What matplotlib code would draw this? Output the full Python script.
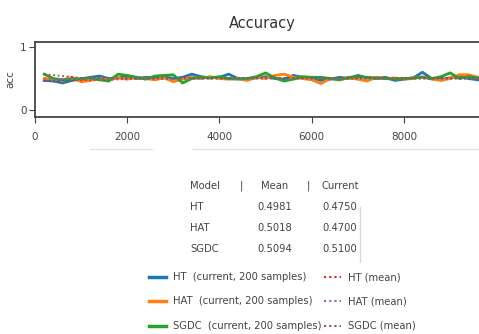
"""Accuracy plot of streaming classifiers with a small summary table."""

import matplotlib.pyplot as plt
from matplotlib.lines import Line2D

plt.rcParams["font.family"] = ["DejaVu Sans"]

# evaluation points (every 200 samples)
samples = [200 * k for k in range(1, 51)]

ht_current = [0.47, 0.46, 0.43, 0.47, 0.49, 0.52, 0.54, 0.50, 0.51, 0.53,
              0.50, 0.52, 0.51, 0.53, 0.50, 0.52, 0.57, 0.53, 0.51, 0.52,
              0.57, 0.50, 0.49, 0.51, 0.53, 0.50, 0.49, 0.55, 0.52, 0.50,
              0.47, 0.49, 0.52, 0.50, 0.55, 0.51, 0.50, 0.52, 0.47, 0.49,
              0.51, 0.60, 0.50, 0.49, 0.51, 0.53, 0.50, 0.48, 0.47, 0.475]
hat_current = [0.50, 0.49, 0.48, 0.52, 0.45, 0.47, 0.50, 0.48, 0.51, 0.49,
               0.52, 0.50, 0.48, 0.51, 0.45, 0.49, 0.52, 0.50, 0.53, 0.50,
               0.49, 0.50, 0.47, 0.52, 0.50, 0.55, 0.57, 0.52, 0.50, 0.48,
               0.42, 0.50, 0.48, 0.51, 0.49, 0.46, 0.52, 0.50, 0.51, 0.49,
               0.50, 0.53, 0.49, 0.47, 0.50, 0.56, 0.56, 0.52, 0.48, 0.47]
sgdc_current = [0.57, 0.50, 0.48, 0.49, 0.50, 0.51, 0.48, 0.46, 0.57, 0.55,
                0.52, 0.49, 0.54, 0.55, 0.56, 0.43, 0.50, 0.52, 0.51, 0.53,
                0.50, 0.49, 0.50, 0.53, 0.59, 0.51, 0.46, 0.49, 0.53, 0.52,
                0.52, 0.50, 0.48, 0.52, 0.53, 0.52, 0.51, 0.50, 0.49, 0.50,
                0.51, 0.52, 0.50, 0.53, 0.59, 0.50, 0.53, 0.51, 0.50, 0.51]

mean_samples = [200, 1000, 2000, 3000, 4000, 5000, 6000, 7000, 8000, 9000, 10000]
ht_mean = [0.47, 0.475, 0.49, 0.50, 0.505, 0.505, 0.502, 0.500, 0.500, 0.499, 0.4981]
hat_mean = [0.50, 0.49, 0.495, 0.495, 0.497, 0.50, 0.500, 0.500, 0.501, 0.502, 0.5018]
sgdc_mean = [0.57, 0.51, 0.505, 0.51, 0.51, 0.512, 0.510, 0.510, 0.509, 0.510, 0.5094]

models = ["HT", "HAT", "SGDC"]
table_mean = ["0.4981", "0.5018", "0.5094"]
table_current = ["0.4750", "0.4700", "0.5100"]

W, H = 479, 334
fig = plt.figure(figsize=(W / 100, H / 100), dpi=100)
ax = fig.add_axes([35 / W, 1 - 117 / H, 454 / W, 75 / H])

cur_colors = ["#1f77b4", "#ff7f0e", "#2ca02c"]
mean_colors = ["#d62728", "#9467bd", "#8c564b"]
for vals, c in zip([ht_current, hat_current, sgdc_current], cur_colors):
    ax.plot(samples, vals, color=c, lw=2)
for vals, c in zip([ht_mean, hat_mean, sgdc_mean], mean_colors):
    ax.plot(mean_samples, vals, color=c, lw=1.3, ls=(0, (1, 1.5)))

ax.set_xlim(0, 9843)
ax.set_ylim(-0.11, 1.08)
ax.set_xticks([0, 2000, 4000, 6000, 8000])
ax.set_yticks([0, 1])
ax.tick_params(labelsize=7.5, colors="#444444", length=4)
ax.tick_params(axis="x", pad=7)
ax.tick_params(axis="y", pad=2)
for s in ax.spines.values():
    s.set_color("#444444")
    s.set_linewidth(1.3)
ax.set_ylabel("acc", fontsize=7.5, color="#444444", labelpad=3)
ax.set_title("Accuracy", fontsize=10.5, color="#333333", pad=10)

# summary table
tc = "#444444"
fs = 7.2
y0 = 1 - 186 / H
dy = 21 / H
fig.text(190 / W, y0, "Model", fontsize=fs, color=tc, va="center")
fig.text(241 / W, y0, "|", fontsize=fs, color=tc, va="center", ha="center")
fig.text(275 / W, y0, "Mean", fontsize=fs, color=tc, va="center", ha="center")
fig.text(308 / W, y0, "|", fontsize=fs, color=tc, va="center", ha="center")
fig.text(340 / W, y0, "Current", fontsize=fs, color=tc, va="center", ha="center")
for i, (m, mv, cv) in enumerate(zip(models, table_mean, table_current)):
    y = y0 - (i + 1) * dy
    fig.text(190 / W, y, m, fontsize=fs, color=tc, va="center")
    fig.text(275 / W, y, mv, fontsize=fs, color=tc, va="center", ha="center")
    fig.text(357 / W, y, cv, fontsize=fs, color=tc, va="center", ha="right")

# faint table edges
fig.add_artist(Line2D([90 / W, 152 / W], [1 - 149 / H] * 2, color="#e2e2e2", lw=1))
fig.add_artist(Line2D([193 / W, 1], [1 - 149 / H] * 2, color="#e2e2e2", lw=1))
fig.add_artist(Line2D([360 / W] * 2, [1 - 207 / H, 1 - 262 / H], color="#d8d8d8", lw=1))

handles = [Line2D([], [], color=c, lw=2.5) for c in cur_colors]
handles += [Line2D([], [], color=c, lw=1.5, ls=(0, (1, 1.5))) for c in mean_colors]
labels = [f"{m}  (current, 200 samples)" for m in models]
labels += [f"{m} (mean)" for m in models]
leg = fig.legend(handles, labels, ncol=2, frameon=False, fontsize=fs,
                 loc="upper left", bbox_to_anchor=(145 / W, 1 - 268 / H),
                 handlelength=1.7, handletextpad=0.7, columnspacing=0.2,
                 labelspacing=1.45, borderaxespad=0)
for t in leg.get_texts():
    t.set_color(tc)

fig.savefig("out.png", dpi=100)
